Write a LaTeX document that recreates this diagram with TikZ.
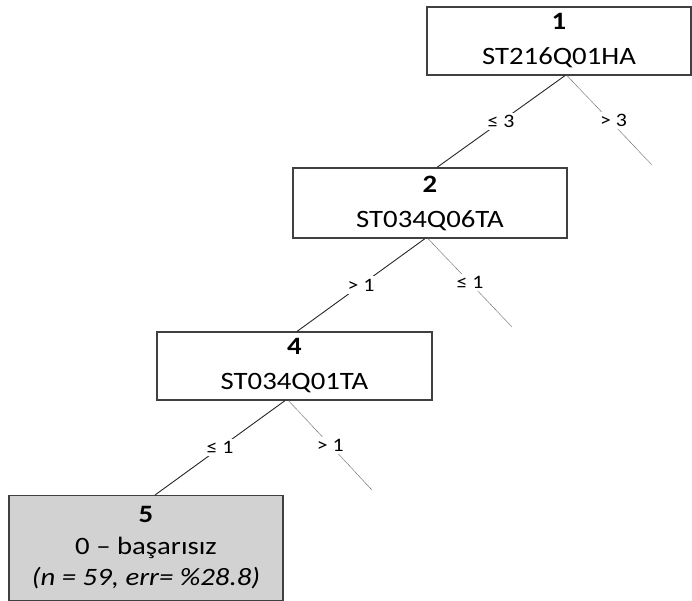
\documentclass[tikz,border=0pt]{standalone}
\usepackage{fontspec}
\setmainfont{Carlito}[FakeStretch=1.15]
\usetikzlibrary{calc}
\definecolor{leafgray}{RGB}{210,210,210}
\definecolor{framegray}{RGB}{64,64,64}
\begin{document}
\begin{tikzpicture}[x=1pt,y=-1pt,
  box/.style={draw=framegray, line width=1.2pt, align=center, inner sep=0pt,
    font=\fontsize{25}{35}\selectfont},
  leaf/.style={box, fill=leafgray, font=\fontsize{25}{31.5}\selectfont},
  branch/.style={draw=black!85, line width=0.9pt},
  pruned/.style={draw=black!55, line width=0.6pt, dash pattern=on 1pt off 0.5pt},
  cond/.style={fill=white, inner sep=2.5pt, font=\fontsize{19}{19}\selectfont}]
\clip (0,0) rectangle (692,600);

% split nodes
\node[box, minimum width=264pt, minimum height=68pt] (n1) at (559,41)
  {\textbf{1}\\ST216Q01HA};
\node[box, minimum width=274pt, minimum height=70pt] (n2) at (430,203)
  {\textbf{2}\\ST034Q06TA};
\node[box, minimum width=275pt, minimum height=68pt] (n4) at (294.5,366)
  {\textbf{4}\\ST034Q01TA};
% terminal node
\node[leaf, anchor=north, minimum width=274pt, inner ysep=11pt] (n5) at (146,495)
  {\textbf{5}\\0 – başarısız\\\textit{(n = 59, err= \%28.8)}};

% loose ends of the pruned branches
\coordinate (r1) at (652,165);
\coordinate (r2) at (512,327);
\coordinate (r3) at (372,490);

% branches
\draw[branch] ($(n1.south)+(6,0)$) -- node[cond] {≤ 3} ($(n2.north)+(7,0)$);
\draw[pruned] ($(n1.south)+(8,0)$) -- node[cond, xshift=4pt] {> 3} (r1);

\draw[branch] ($(n2.south)+(-5,0)$) -- node[cond] {> 1} ($(n4.north)+(2.5,0)$);
\draw[pruned] ($(n2.south)+(-2,0)$) -- node[cond] {≤ 1} (r2);

\draw[branch] ($(n4.south)+(-9.5,0)$) -- node[cond] {≤ 1} ($(n5.north)+(9,0)$);
\draw[pruned] ($(n4.south)+(-6,0)$) -- node[cond] {> 1} (r3);
\end{tikzpicture}
\end{document}
